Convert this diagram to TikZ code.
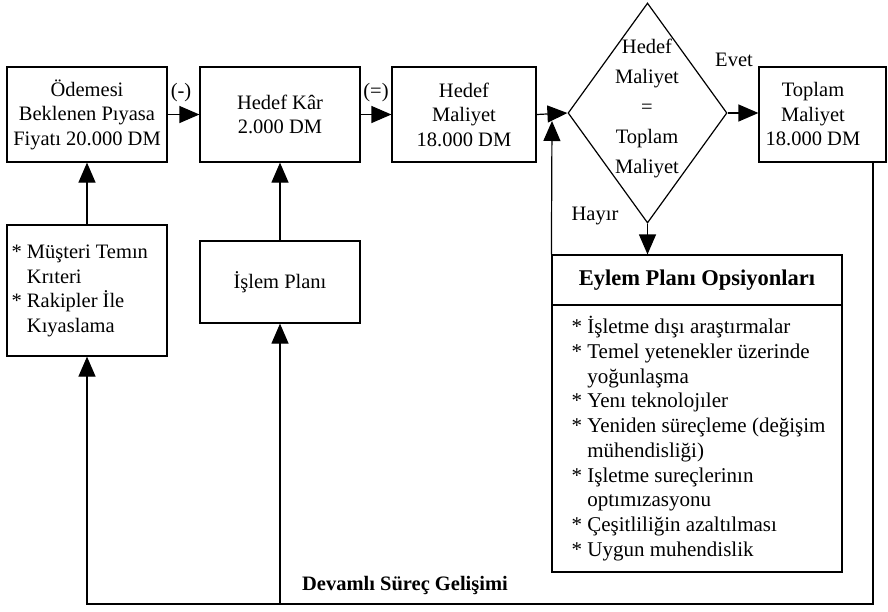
\documentclass[tikz,border=0pt]{standalone}
\usepackage{fontspec}
\setmainfont{Liberation Serif}
\usetikzlibrary{arrows.meta,shapes.geometric}
\begin{document}
\begin{tikzpicture}[x=1pt,y=-1pt,line width=1.2pt,
  txt/.style={font=\fontsize{20.5}{24.5}\selectfont, inner sep=0pt, align=center},
  box/.style={draw, rectangle, inner sep=0pt, txt},
  arr/.style={-{Triangle[length=20pt,width=17pt]}}]
\useasboundingbox (0,0) rectangle (888,611);
% top row
\node[box, minimum width=160pt, minimum height=95pt] (b1) at (87,114.5) {Ödemesi\\Beklenen Pıyasa\\Fiyatı 20.000 DM};
\node[box, minimum width=160pt, minimum height=95pt] (b2) at (280,114.5) {Hedef Kâr\\2.000 DM};
\node[box, minimum width=144pt, minimum height=95pt] (b3) at (464,114.5) {Hedef\\Maliyet\\18.000 DM};
\node[draw, diamond, inner sep=0pt, minimum width=159pt, minimum height=220pt] (d) at (647.5,113) {};
\node[txt, font=\fontsize{20.5}{30}\selectfont] (dt) at (647,108) {Hedef\\Maliyet\\=\\Toplam\\Maliyet};
\node[box, minimum width=127pt, minimum height=95pt] (b4) at (822.5,114.5) {};
\node[txt] (b4t) at (813,114.5) {Toplam\\Maliyet\\18.000 DM};
% second row
\node[box, minimum width=160pt, minimum height=131pt] (m) at (87,290.5) {};
\node[txt, anchor=west] (mt) at (11,290.5) {\begin{tabular}{@{}l@{\ }l@{}}{*}&Müşteri Temın\\&Krıteri\\{*}&Rakipler İle\\&Kıyaslama\end{tabular}};
\node[box, minimum width=160pt, minimum height=82pt] (i) at (280,282) {İşlem Planı};
\node[box, minimum width=290pt, minimum height=50pt, font=\bfseries\fontsize{22.5}{26}\selectfont] (e) at (697,280) {Eylem Planı Opsiyonları};
\node[box, minimum width=290pt, minimum height=267pt] (l) at (697,438.5) {};
\node[txt, anchor=west, font=\fontsize{21}{24.7}\selectfont] (lt) at (571,440) {\begin{tabular}{@{}l@{\ }l@{}}{*}&İşletme dışı araştırmalar\\{*}&Temel yetenekler üzerinde\\&yoğunlaşma\\{*}&Yenı teknolojıler\\{*}&Yeniden süreçleme (değişim\\&mühendisliği)\\{*}&Işletme sureçlerinın\\&optımızasyonu\\{*}&Çeşitliliğin azaltılması\\{*}&Uygun muhendislik\end{tabular}};
% labels
\node[txt] (minus) at (181,93) {(-)};
\node[txt] (eq) at (376,93) {(=)};
\node[txt] (evet) at (734,60) {Evet};
\node[txt] (hayir) at (595,216) {Hayır};
\node[txt, font=\bfseries\fontsize{20.5}{24.5}\selectfont] (dev) at (405,585) {Devamlı Süreç Gelişimi};
% coordinates
\coordinate (fb) at (552,121);
\coordinate (rt) at (873,162);
\coordinate (rb) at (873,604);
\coordinate (lb) at (87,604);
% connectors
\draw[arr] (b1.east) -- (b2.west);
\draw[arr] (b2.east) -- (b3.west);
\draw[arr] (b3.east) -- (d.west);
\draw[arr] (d.east) -- (d.east -| b4.west);
\draw[arr] (d.south) -- (d.south |- e.north);
\draw[arr] (e.north west) -- (fb);
\draw[arr] (m.north) -- (b1.south);
\draw[arr] (i.north) -- (b2.south);
\draw[arr] (rt) -- (rb) -- (lb) -- (m.south);
\draw[arr] (i.south |- rb) -- (i.south);
\end{tikzpicture}
\end{document}
